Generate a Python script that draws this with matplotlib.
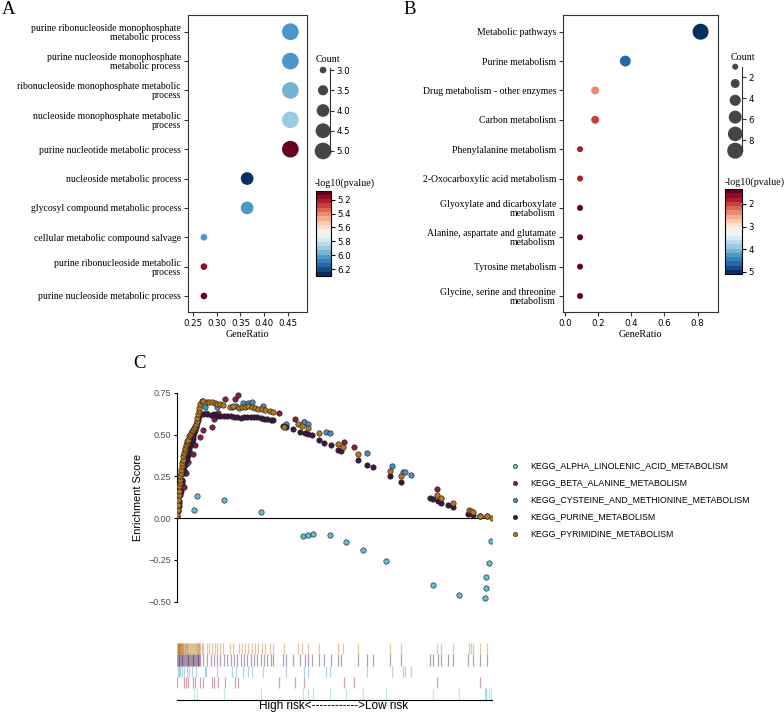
import matplotlib
matplotlib.use("Agg")
import matplotlib.pyplot as plt
import numpy as np

W, H = 784, 713

# ---------------- panel A : GO terms ----------------
go_terms = ["purine ribonucleoside monophosphate\nmetabolic process",
            "purine nucleoside monophosphate\nmetabolic process",
            "ribonucleoside monophosphate metabolic\nprocess",
            "nucleoside monophosphate metabolic\nprocess",
            "purine nucleotide metabolic process",
            "nucleoside metabolic process",
            "glycosyl compound metabolic process",
            "cellular metabolic compound salvage",
            "purine ribonucleoside metabolic\nprocess",
            "purine nucleoside metabolic process"]
go_ratio = [0.455, 0.455, 0.455, 0.455, 0.455, 0.364, 0.364, 0.273, 0.273, 0.273]
go_count = [5, 5, 5, 5, 5, 4, 4, 3, 3, 3]
go_logp = [6.02, 6.02, 5.95, 5.92, 5.07, 6.30, 6.05, 6.03, 5.19, 5.13]

# ---------------- panel B : KEGG terms ----------------
kegg_terms = ["Metabolic pathways",
              "Purine metabolism",
              "Drug metabolism - other enzymes",
              "Carbon metabolism",
              "Phenylalanine metabolism",
              "2-Oxocarboxylic acid metabolism",
              "Glyoxylate and dicarboxylate\nmetabolism",
              "Alanine, aspartate and glutamate\nmetabolism",
              "Tyrosine metabolism",
              "Glycine, serine and threonine\nmetabolism"]
kegg_ratio = [0.818, 0.364, 0.182, 0.182, 0.091, 0.091, 0.091, 0.091, 0.091, 0.091]
kegg_count = [9, 4, 2, 2, 1, 1, 1, 1, 1, 1]
kegg_logp = [5.10, 4.55, 2.44, 2.07, 1.77, 1.77, 1.48, 1.40, 1.34, 1.34]

# ---------------- panel C : GSEA running scores ----------------
gsea_names = ["KEGG_ALPHA_LINOLENIC_ACID_METABOLISM",
              "KEGG_BETA_ALANINE_METABOLISM",
              "KEGG_CYSTEINE_AND_METHIONINE_METABOLISM",
              "KEGG_PURINE_METABOLISM",
              "KEGG_PYRIMIDINE_METABOLISM"]
gsea_colors = ["#56C1D4", "#8C1B3D", "#4A8DC6", "#3D1442", "#B5761E"]

alpha_rank = [50, 58, 141, 250, 376, 391, 406, 458, 506, 558, 626, 768, 844, 923, 925, 927, 936, 941]
alpha_es = [0.046, 0.135, 0.107, 0.034, -0.109, -0.103, -0.095, -0.103, -0.143, -0.189,
            -0.259, -0.398, -0.458, -0.480, -0.418, -0.354, -0.269, -0.139]

beta_rank = [0, 20, 25, 33, 48, 53, 68, 76, 103, 110, 122, 144, 173, 183, 306, 353, 381, 500, 530, 778, 908]
beta_es = [0.06, 0.189, 0.269, 0.338, 0.384, 0.440, 0.483, 0.530, 0.547, 0.590, 0.627, 0.712,
           0.712, 0.736, 0.627, 0.591, 0.577, 0.458, 0.428, 0.175, 0.014]

cys_rank = [2, 5, 9, 13, 20, 28, 36, 44, 56, 83, 86, 118, 163, 176, 198, 211, 225, 258,
            325, 381, 391, 445, 458, 570, 645, 676, 683, 700]
cys_es = [0.05, 0.09, 0.15, 0.219, 0.27, 0.33, 0.39, 0.45, 0.547, 0.662, 0.63, 0.662, 0.662,
          0.67, 0.686, 0.69, 0.696, 0.67, 0.563, 0.577, 0.563, 0.517, 0.507, 0.388, 0.312,
          0.278, 0.275, 0.26]

purine_rank = [0, 2, 4, 6, 8, 10, 13, 15, 18, 20, 23, 25, 28, 31, 33, 36, 38, 41, 43, 46, 48,
               51, 53, 56, 58, 61, 63, 66, 68, 78, 90, 100, 110, 120, 128, 140, 150, 160, 170,
               180, 190, 200, 210, 220, 230, 240, 250, 260, 270, 280, 288, 318, 326, 348, 368,
               383, 393, 403, 425, 440, 460, 483, 490, 543, 570, 586, 638, 670, 758, 768, 783,
               790, 813, 828, 873, 888, 908, 928]
purine_es = [0.01, 0.04, 0.07, 0.10, 0.139, 0.16, 0.209, 0.23, 0.27, 0.29, 0.32, 0.34, 0.36,
             0.38, 0.39, 0.41, 0.43, 0.445, 0.46, 0.475, 0.49, 0.51, 0.53, 0.55, 0.57, 0.585,
             0.60, 0.61, 0.62, 0.62, 0.62, 0.615, 0.62, 0.61, 0.612, 0.612, 0.612, 0.61, 0.605,
             0.605, 0.60, 0.602, 0.605, 0.607, 0.607, 0.605, 0.60, 0.595, 0.59, 0.585, 0.585,
             0.551, 0.547, 0.533, 0.517, 0.507, 0.501, 0.495, 0.467, 0.452, 0.438, 0.408, 0.402,
             0.348, 0.318, 0.308, 0.249, 0.213, 0.121, 0.115, 0.10, 0.093, 0.08, 0.064, 0.024,
             0.018, 0.014, 0.01]

pyr_rank = [0, 1, 2, 3, 4, 5, 6, 7, 8, 9, 10, 11, 13, 15, 16, 18, 20, 22, 23, 25, 28, 30, 32,
            35, 38, 41, 44, 47, 50, 53, 56, 58, 60, 62, 64, 66, 68, 73, 78, 88, 95, 103, 113,
            118, 128, 138, 158, 166, 186, 193, 203, 213, 223, 233, 243, 253, 263, 278, 286,
            320, 362, 375, 391, 425, 483, 498, 543, 638, 671, 778, 791, 828, 875, 880, 888,
            908, 928, 943]
pyr_es = [0.02, 0.05, 0.08, 0.11, 0.14, 0.16, 0.19, 0.21, 0.23, 0.25, 0.27, 0.29, 0.31, 0.33,
          0.35, 0.37, 0.39, 0.41, 0.42, 0.44, 0.45, 0.46, 0.47, 0.49, 0.50, 0.51, 0.52, 0.53,
          0.54, 0.55, 0.56, 0.58, 0.60, 0.62, 0.64, 0.66, 0.68, 0.70, 0.70, 0.695, 0.695, 0.695,
          0.69, 0.685, 0.68, 0.675, 0.665, 0.67, 0.66, 0.665, 0.665, 0.668, 0.663, 0.66, 0.655,
          0.65, 0.648, 0.64, 0.635, 0.543, 0.56, 0.55, 0.54, 0.507, 0.444, 0.428, 0.382, 0.282,
          0.249, 0.139, 0.123, 0.093, 0.046, 0.04, 0.034, 0.014, 0.01, 0.0]

n_genes = 943


def box(l, t, r, b):
    return [l / W, 1 - b / H, (r - l) / W, (b - t) / H]


def fx(px):
    return px / W


def fy(py):
    return 1 - py / H


serif = "Liberation Serif"
sans = "DejaVu Sans"
cmap = plt.get_cmap("RdBu", 20)

fig = plt.figure(figsize=(W / 100, H / 100), dpi=100)


def dotplot(ax_box, terms, ratio, count, logp, xlim, xticks, xticklabels, size_fn,
            leg_box, leg_vals, leg_ticks, leg_labels, leg_ylim, cb_box, cb_ticks,
            count_pos, cbt_pos):
    ax = fig.add_axes(ax_box)
    y = np.arange(len(terms))
    sc = ax.scatter(ratio, y, s=size_fn(np.array(count)), c=logp, cmap=cmap,
                    vmin=min(logp), vmax=max(logp), edgecolors="none", zorder=3)
    ax.set_ylim(9.545, -0.569)
    ax.set_xlim(*xlim)
    ax.set_yticks(y)
    ax.set_yticklabels(terms, fontfamily=serif, fontsize=7)
    for t in ax.get_yticklabels():
        t.set_linespacing(1.0)
    ax.set_xticks(xticks)
    ax.set_xticklabels(xticklabels, fontfamily=sans, fontsize=6.2)
    ax.set_xlabel("GeneRatio", fontfamily=serif, fontsize=7.3, labelpad=1.5)
    ax.tick_params(length=3, width=0.8, pad=2, color="#333333")
    for s in ax.spines.values():
        s.set_linewidth(0.8)
        s.set_color("#333333")

    # size legend
    lax = fig.add_axes(leg_box)
    lax.scatter(np.full(len(leg_vals), 0.59), leg_vals, s=size_fn(np.array(leg_vals)),
                color="#454545", edgecolors="none", clip_on=False)
    lax.set_xlim(0, 1)
    lax.set_ylim(*leg_ylim)
    for k in ["top", "left", "bottom"]:
        lax.spines[k].set_visible(False)
    lax.spines["right"].set_linewidth(0.8)
    lax.spines["right"].set_color("#333333")
    lax.set_xticks([])
    lax.yaxis.tick_right()
    lax.set_yticks(leg_ticks)
    lax.set_yticklabels(leg_labels, fontfamily=sans, fontsize=6.2)
    lax.tick_params(length=3, width=0.8, pad=1.5, color="#333333")
    lax.patch.set_visible(False)
    fig.text(fx(count_pos[0]), fy(count_pos[1]), "Count", fontfamily=serif, fontsize=7.2,
             ha="center", va="center")

    # colour bar
    cax = fig.add_axes(cb_box)
    cb = fig.colorbar(sc, cax=cax)
    cb.set_ticks(cb_ticks)
    cax.invert_yaxis()
    cb.outline.set_linewidth(0.8)
    cax.tick_params(length=3, width=0.8, pad=1.5, labelsize=6.2)
    for t in cax.get_yticklabels():
        t.set_fontfamily(sans)
    fig.text(fx(cbt_pos[0]), fy(cbt_pos[1]), "-log10(pvalue)", fontfamily=serif, fontsize=7.2,
             ha="left", va="center")
    return ax


dotplot(box(188, 15, 307, 312), go_terms, go_ratio, go_count, go_logp,
        (0.2395, 0.49), [0.25, 0.30, 0.35, 0.40, 0.45],
        ["0.25", "0.30", "0.35", "0.40", "0.45"],
        lambda c: 23 + (c - 3) * 60.5,
        box(313, 68, 330, 153), [3, 3.5, 4, 4.5, 5], [3, 3.5, 4, 4.5, 5],
        ["3.0", "3.5", "4.0", "4.5", "5.0"], (5.05, 2.95),
        box(316, 190.7, 331, 276), [5.2, 5.4, 5.6, 5.8, 6.0, 6.2],
        (328, 60), (315, 183))

dotplot(box(563, 15, 717.5, 312), kegg_terms, kegg_ratio, kegg_count, kegg_logp,
        (-0.012, 0.92), [0.0, 0.2, 0.4, 0.6, 0.8],
        ["0.0", "0.2", "0.4", "0.6", "0.8"],
        lambda c: 18.7 + (c - 1) * 14.25,
        box(725, 66.7, 742.3, 150.7), list(np.linspace(1, 9, 6)), [2, 4, 6, 8],
        ["2", "4", "6", "8"], (9, 1),
        box(725, 189, 742, 274), [2, 3, 4, 5],
        (743, 57), (725, 182))

fig.text(fx(2), fy(10), "A", fontfamily=serif, fontsize=13.5, ha="left", va="center")
fig.text(fx(403), fy(10), "B", fontfamily=serif, fontsize=13.5, ha="left", va="center")
fig.text(fx(133), fy(364), "C", fontfamily=serif, fontsize=13.5, ha="left", va="center")

# ---------------- panel C ----------------
csans = "Liberation Sans"
ranks = [alpha_rank, beta_rank, cys_rank, purine_rank, pyr_rank]
scores = [alpha_es, beta_es, cys_es, purine_es, pyr_es]

axc = fig.add_axes(box(177.3, 391.9, 491.7, 602.5))
axc.axhline(0, color="black", lw=0.8, zorder=1)
for r, e, col in zip(ranks, scores, gsea_colors):
    axc.scatter(r, e, s=15, color=col, edgecolors="#222222", linewidths=0.45, zorder=3)
axc.set_xlim(0, n_genes)
axc.set_ylim(-0.505, 0.755)
for k in ["top", "right", "bottom"]:
    axc.spines[k].set_visible(False)
axc.spines["left"].set_bounds(-0.5, 0.75)
axc.spines["left"].set_linewidth(0.8)
axc.set_xticks([])
axc.set_yticks([-0.5, -0.25, 0, 0.25, 0.5, 0.75])
axc.set_yticklabels(["\u22120.50", "\u22120.25", "0.00", "0.25", "0.50", "0.75"],
                    fontfamily=csans, fontsize=6.5, color="#4d4d4d")
axc.tick_params(length=2.5, width=0.8, pad=2)
axc.patch.set_visible(False)
fig.text(fx(138), fy(497), "Enrichment Score", fontfamily=csans, fontsize=7.8,
         rotation=90, ha="center", va="center")

# legend
lg = fig.add_axes(box(505, 455, 770, 545))
lg.set_xlim(505, 770)
lg.set_ylim(545, 455)
lg.axis("off")
for i, (name, col) in enumerate(zip(gsea_names, gsea_colors)):
    yy = 465.7 + i * 17
    lg.scatter([515], [yy], s=10, color=col, edgecolors="#222222", linewidths=0.4)
    lg.text(530, yy, name, fontfamily=csans, fontsize=6.3, ha="left", va="center")

# rug of hit positions
axr = fig.add_axes(box(177.3, 643, 491.7, 699.5))
for row, (r, col) in enumerate(zip(ranks, gsea_colors)):
    axr.vlines(r, row, row + 1, colors=col, alpha=0.4, lw=0.9)
axr.set_xlim(0, n_genes)
axr.set_ylim(0, 5)
for k in ["top", "right", "left"]:
    axr.spines[k].set_visible(False)
axr.spines["bottom"].set_linewidth(0.8)
axr.set_xticks([])
axr.set_yticks([])
axr.patch.set_visible(False)
fig.text(fx(334), fy(706.5), "High risk<------------>Low risk", fontfamily=csans,
         fontsize=8.5, ha="center", va="center")

fig.savefig("out.png", dpi=100)
